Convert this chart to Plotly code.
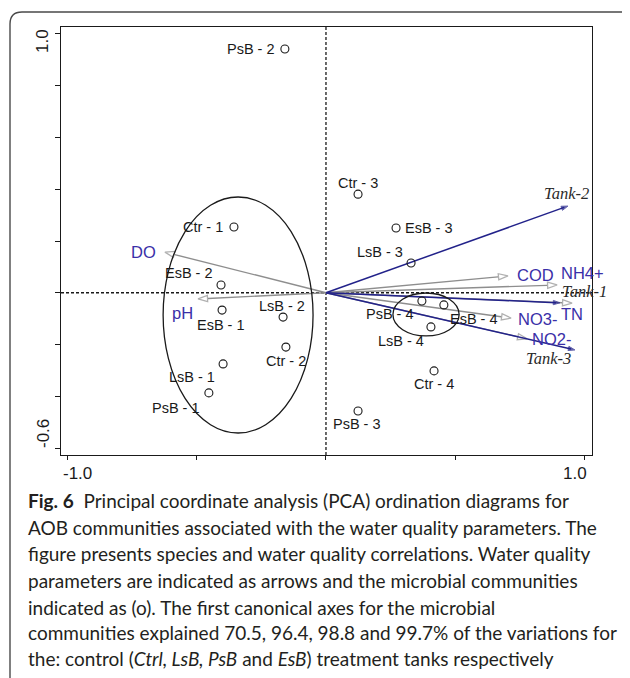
import plotly.graph_objects as go

# ---------------- data ----------------
site_names = ["PsB - 2", "Ctr - 1", "Ctr - 3", "EsB - 3", "LsB - 3", "EsB - 2", "EsB - 1", "LsB - 2",
              "Ctr - 2", "LsB - 1", "PsB - 1", "PsB - 4", "EsB - 4", "LsB - 4", "Ctr - 4", "PsB - 3"]
site_x = [-0.159, -0.356, 0.124, 0.271, 0.329, -0.406, -0.402, -0.166,
          -0.155, -0.398, -0.453, 0.371, 0.456, 0.406, 0.418, 0.124]
site_y = [0.942, 0.254, 0.381, 0.250, 0.115, 0.030, -0.067, -0.094,
          -0.210, -0.275, -0.387, -0.032, -0.047, -0.132, -0.302, -0.457]

env_names = ["DO", "pH", "COD", "NH4+", "TN", "NO3-", "NO2-"]
env_x = [-0.623, -0.495, 0.704, 0.894, 0.952, 0.716, 0.778]
env_y = [0.157, -0.024, 0.065, 0.030, -0.040, -0.098, -0.178]

tank_names = ["Tank-1", "Tank-2", "Tank-3"]
tank_x = [0.905, 0.936, 0.963]
tank_y = [-0.039, 0.335, -0.221]

ellipse_cx = [-0.340, 0.387]
ellipse_cy = [-0.086, -0.084]
ellipse_rx = [0.290, 0.128]
ellipse_ry = [0.456, 0.083]

x_tick_vals = [-1.0, -0.5, 0.0, 0.5, 1.0]
x_tick_text = ["-1.0", "", "", "", "1.0"]
y_tick_vals = [-0.6, -0.4, -0.2, 0.0, 0.2, 0.4, 0.6, 0.8, 1.0]
y_tick_text = ["-0.6", "", "", "", "", "", "", "", "1.0"]

caption_lines = [
    "<b>Fig. 6</b>  Principal coordinate analysis (PCA) ordination diagrams for",
    "AOB communities associated with the water quality parameters. The",
    "figure presents species and water quality correlations. Water quality",
    "parameters are indicated as arrows and the microbial communities",
    "indicated as (o). The first canonical axes for the microbial",
    "communities explained 70.5, 96.4, 98.8 and 99.7% of the variations for",
    "the: control (<i>Ctrl, LsB, PsB</i> and <i>EsB</i>) treatment tanks respectively",
]

# ---------------- layout geometry / styles ----------------
OFF = 8                      # page body margin of the html output
W, H = 630 - OFF, 678 - OFF
ML, MR, MT, MB = 61 - OFF, 38, 27 - OFF, 223
PW, PH = W - ML - MR, H - MT - MB
XR = [-1.025, 1.029]
YR = [-0.627, 1.027]


def xp(px):   # page pixel -> paper x
    return (px - OFF - ML) / PW


def yp(py):   # page pixel -> paper y
    return (H - MB - (py - OFF)) / PH


GREY = "#8e8e8e"
NAVY = "#22228a"
LBLUE = "#3a2fa8"
BLACK = "#1a1a1a"

# label placement (anchor, xshift px, yshift px)
site_lab = {
    "PsB - 2": ("right", -8, 0), "Ctr - 1": ("right", -9, 0), "Ctr - 3": ("center", 0, 11),
    "EsB - 3": ("left", 7, 0), "LsB - 3": ("right", -6, 11), "EsB - 2": ("right", -6, 12),
    "EsB - 1": ("center", -1, -15), "LsB - 2": ("center", -1, 11), "Ctr - 2": ("center", 0, -14),
    "LsB - 1": ("right", -6, -13), "PsB - 1": ("right", -7, -15), "PsB - 4": ("right", -6, -13),
    "EsB - 4": ("left", 4, -14), "LsB - 4": ("right", -5, -14), "Ctr - 4": ("center", 0, -13),
    "PsB - 3": ("center", -1, -13),
}
env_lab = {
    "DO": ("right", -7, 0), "pH": ("right", -3, -14), "COD": ("left", 7, 1),
    "NH4+": ("left", 2, 12), "TN": ("center", 0, -11), "NO3-": ("left", 5, -1),
    "NO2-": ("left", 3, 0),
}
tank_lab = {"Tank-1": ("left", 0, 11), "Tank-2": ("center", -1, 13), "Tank-3": ("right", -2, -9)}

fig = go.Figure()

# environmental arrows (grey, open heads)
for n, ex, ey in zip(env_names, env_x, env_y):
    fig.add_trace(go.Scatter(
        x=[0, ex], y=[0, ey], mode="lines+markers", hoverinfo="skip", showlegend=False,
        line=dict(color=GREY, width=1.4, backoff=10),
        marker=dict(symbol=["circle", "arrow-open"], size=[0, 10], angleref="previous",
                    color=GREY, line=dict(color=GREY, width=1.3)),
    ))

# tank arrows (navy, filled heads)
for n, tx, ty in zip(tank_names, tank_x, tank_y):
    fig.add_trace(go.Scatter(
        x=[0, tx], y=[0, ty], mode="lines+markers", hoverinfo="skip", showlegend=False,
        line=dict(color=NAVY, width=1.5, backoff=4),
        marker=dict(symbol=["circle", "arrow"], size=[0, 7], angleref="previous",
                    color=NAVY, line=dict(color=NAVY, width=1)),
    ))

# samples
fig.add_trace(go.Scatter(
    x=site_x, y=site_y, mode="markers", hoverinfo="skip", showlegend=False,
    marker=dict(symbol="circle-open", size=8, color=BLACK, line=dict(color=BLACK, width=1.1)),
))

annotations = []
for n, sx, sy in zip(site_names, site_x, site_y):
    a, dx, dy = site_lab[n]
    annotations.append(dict(x=sx, y=sy, xref="x", yref="y", text=n, showarrow=False,
                            xanchor=a, yanchor="middle", xshift=dx, yshift=dy,
                            font=dict(family="Liberation Sans, Arial", size=14.5, color=BLACK)))
for n, ex, ey in zip(env_names, env_x, env_y):
    a, dx, dy = env_lab[n]
    annotations.append(dict(x=ex, y=ey, xref="x", yref="y", text=n, showarrow=False,
                            xanchor=a, yanchor="middle", xshift=dx, yshift=dy,
                            font=dict(family="Liberation Sans, Arial", size=16.5, color=LBLUE)))
for n, tx, ty in zip(tank_names, tank_x, tank_y):
    a, dx, dy = tank_lab[n]
    annotations.append(dict(x=tx, y=ty, xref="x", yref="y", text="<i>" + n + "</i>", showarrow=False,
                            xanchor=a, yanchor="middle", xshift=dx, yshift=dy,
                            font=dict(family="Liberation Serif, Times New Roman", size=16.5, color="#2a2a2a")))

# axis end labels
for v, t in zip(x_tick_vals, x_tick_text):
    if not t:
        continue
    left = v < 0
    annotations.append(dict(x=v, y=yp(473), xref="x", yref="paper", text=t, showarrow=False,
                            xanchor="left" if left else "right", yanchor="middle",
                            xshift=-6 if left else 4,
                            font=dict(family="Liberation Sans, Arial", size=17, color=BLACK)))
for v, t in zip(y_tick_vals, y_tick_text):
    if not t:
        continue
    top = v > 0
    annotations.append(dict(x=xp(43), y=v, xref="paper", yref="y", text=t, showarrow=False,
                            textangle=-90, xanchor="center", yanchor="middle",
                            yshift=-7 if top else 14,
                            font=dict(family="Liberation Sans, Arial", size=17, color=BLACK)))

# caption
cap_y = [500, 527, 553, 580, 607, 632, 658]
for line, cy in zip(caption_lines, cap_y):
    annotations.append(dict(x=xp(26), y=yp(cy), xref="paper", yref="paper", text=line,
                            showarrow=False, xanchor="left", yanchor="middle",
                            font=dict(family="Lato", size=19, color="#231f20")))

shapes = []
# zero lines
shapes.append(dict(type="line", xref="x", yref="paper", x0=0, x1=0, y0=0, y1=1,
                   line=dict(color=BLACK, width=1.3, dash="3px,2px"), layer="below"))
shapes.append(dict(type="line", xref="paper", yref="y", x0=0, x1=1, y0=0, y1=0,
                   line=dict(color=BLACK, width=1.3, dash="3px,2px"), layer="below"))
# ellipses
for cx, cy, rx, ry in zip(ellipse_cx, ellipse_cy, ellipse_rx, ellipse_ry):
    shapes.append(dict(type="circle", xref="x", yref="y", x0=cx - rx, x1=cx + rx,
                       y0=cy - ry, y1=cy + ry, line=dict(color=BLACK, width=1.3)))
# outer rounded border (page pixel coordinates)
r = 12
L, R_, T, B = 10, 639, 12, 690
path = (f"M {xp(L)},{yp(B)} L {xp(L)},{yp(T + r)} Q {xp(L)},{yp(T)} {xp(L + r)},{yp(T)} "
        f"L {xp(R_ - r)},{yp(T)} Q {xp(R_)},{yp(T)} {xp(R_)},{yp(T + r)} L {xp(R_)},{yp(B)}")
shapes.append(dict(type="path", xref="paper", yref="paper", path=path,
                   line=dict(color="#4a4a4a", width=1.4)))

axis_common = dict(showgrid=False, zeroline=False, showline=True, mirror=True,
                   linecolor=BLACK, linewidth=1.3, ticks="outside", tickcolor=BLACK,
                   tickwidth=1.2, showticklabels=False, fixedrange=True)
fig.update_layout(
    width=W, height=H, margin=dict(l=ML, r=MR, t=MT, b=MB, pad=0),
    paper_bgcolor="white", plot_bgcolor="white",
    xaxis=dict(range=XR, tickvals=x_tick_vals, ticklen=4, **axis_common),
    yaxis=dict(range=YR, tickvals=y_tick_vals, ticklen=5, **axis_common),
    annotations=annotations, shapes=shapes, showlegend=False,
)

fig.write_html("out.html")
